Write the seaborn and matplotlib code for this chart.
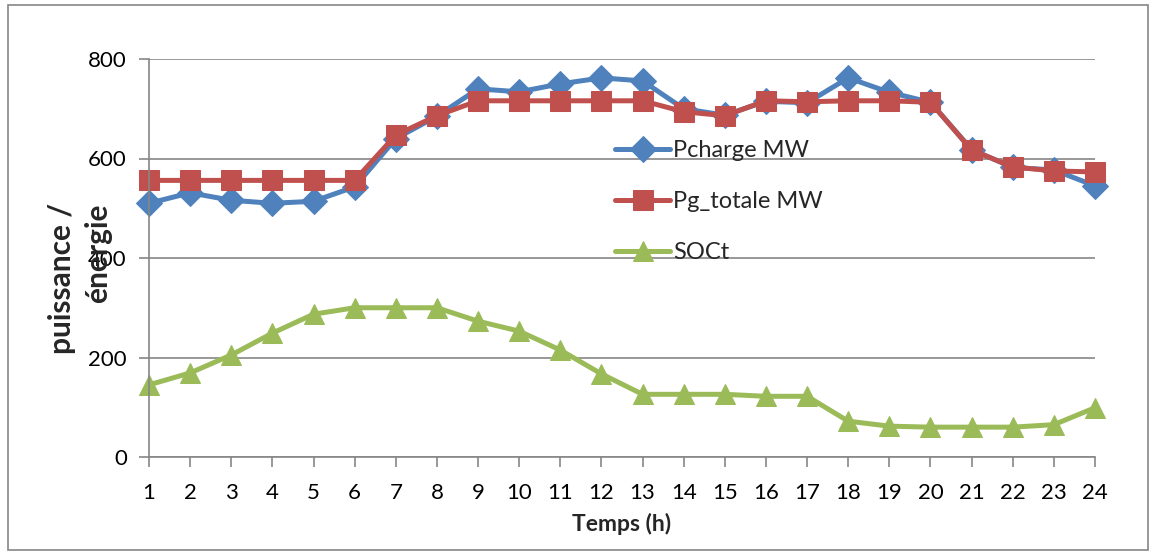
import matplotlib
matplotlib.use("Agg")
import matplotlib.pyplot as plt
import seaborn as sns
import pandas as pd
from matplotlib.patches import Rectangle

hours = list(range(1, 25))
pcharge = [510, 531, 516, 510, 514, 543, 640, 685, 740, 734, 750, 762,
           756, 700, 687, 715, 712, 762, 733, 713, 618, 582, 577, 545]
pg_totale = [556, 556, 556, 556, 556, 556, 647, 686, 716, 716, 716, 716,
             716, 694, 686, 716, 714, 716, 716, 713, 617, 583, 575, 573]
soct = [145, 169, 205, 249, 287, 300, 300, 300, 273, 253, 215, 167,
        126, 126, 126, 122, 122, 72, 62, 60, 60, 60, 65, 99]
y_ticks = [0, 200, 400, 600, 800]

series = [
    ("Pcharge MW", pcharge, "#4F81BD", "D", 13),
    ("Pg_totale MW", pg_totale, "#C0504D", "s", 14),
    ("SOCt", soct, "#9BBB59", "^", 14),
]

sns.set_theme(style="white")
plt.rcParams["font.family"] = ["Lato", "DejaVu Sans"]

fig = plt.figure(figsize=(11.53, 5.54), dpi=100)
fig.patches.append(Rectangle((8 / 1153, 4 / 554), 1140 / 1153, 545 / 554,
                             transform=fig.transFigure, fill=False,
                             edgecolor="#868686", linewidth=1.2))
ax = fig.add_axes([149 / 1153, 1 - 457 / 554, (1095 - 149) / 1153, (457 - 59) / 554])

for name, values, color, marker, ms in series:
    df = pd.DataFrame({"Temps": hours, "val": values})
    sns.lineplot(data=df, x="Temps", y="val", ax=ax, color=color, linewidth=3.6,
                 marker=marker, markersize=ms, markeredgecolor=color,
                 label=name, clip_on=False)

ax.set_xlim(1, 24)
ax.set_ylim(0, 800)
ax.set_xticks(hours)
ax.set_xticklabels([str(h) for h in hours])
ax.set_yticks(y_ticks)
ax.yaxis.grid(True, color="#868686", linewidth=1.2)
ax.set_axisbelow(True)
for s in ("top", "right"):
    ax.spines[s].set_visible(False)
for s in ("left", "bottom"):
    ax.spines[s].set_color("#868686")
    ax.spines[s].set_linewidth(1.2)
ax.tick_params(axis="both", which="both", direction="out", length=7, width=1.2,
               color="#868686", labelsize=16, labelcolor="black")
ax.tick_params(axis="x", pad=12)
ax.tick_params(axis="y", pad=9)
ax.tick_params(left=True, bottom=True)

ax.set_xlabel("Temps (h)", fontsize=16.5, fontweight="bold", labelpad=7)
ax.set_ylabel("")
fig.text(62 / 1153, 1 - 278 / 554, "puissance /", rotation=90, fontsize=21.5,
         fontweight="bold", ha="center", va="center")
fig.text(98 / 1153, 1 - 253 / 554, "énergie", rotation=90, fontsize=21.5,
         fontweight="bold", ha="center", va="center")

leg = ax.legend(loc="upper left", bbox_to_anchor=((615 - 149) / 946, (457 - 140) / 398),
                frameon=False, fontsize=17, handlelength=2.35, labelspacing=1.28,
                handletextpad=0.12, borderaxespad=0, borderpad=0)

fig.savefig("out.png", dpi=100)
